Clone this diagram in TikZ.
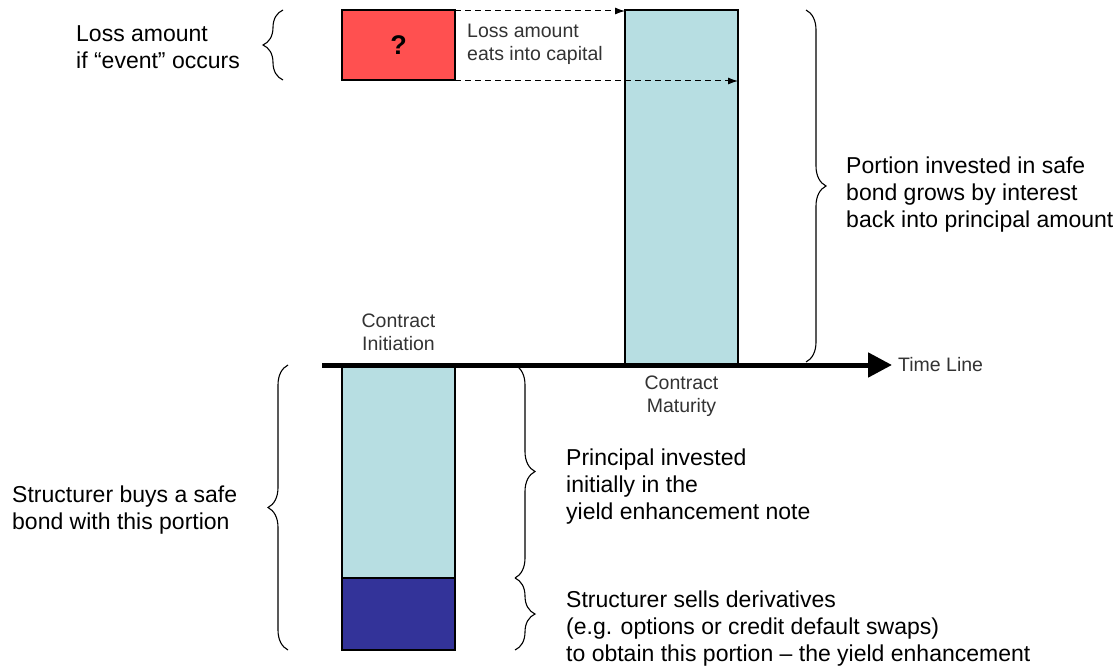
\documentclass[tikz,border=0pt]{standalone}
\usepackage{fontspec}
\setmainfont{Liberation Sans}
\usetikzlibrary{arrows.meta, positioning, calc, decorations.pathreplacing}
\definecolor{lossred}{RGB}{255,80,80}
\definecolor{bondblue}{RGB}{183,222,226}
\definecolor{derivblue}{RGB}{51,51,153}

\begin{document}
\begin{tikzpicture}[x=1pt, y=-1pt, node distance=10pt, >=latex,
        box/.style={draw, line width=1.5pt, minimum width=113pt, inner sep=0pt, outer sep=0pt},
        bigtext/.style={font=\fontsize{23}{27}\selectfont, align=left, inner sep=0pt, anchor=west},
        smalltext/.style={font=\fontsize{19.5}{23}\selectfont, text=black!80, inner sep=0pt},
        bracket/.style={decorate, decoration={brace, amplitude=20pt}, line width=1.1pt},
        dasharrow/.style={dash pattern=on 6pt off 4pt, line width=1pt, -{Latex[length=10pt, width=7pt]}}]
        \useasboundingbox (0,0) rectangle (1118,668);

        \node (loss) [box, fill=lossred, minimum height=70pt] at (398.5,45) {\fontsize{27}{30}\selectfont\textbf{?}};
        \node (bond) [box, fill=bondblue, minimum height=355pt] at (681.5,187.5) {};
        \node (principal) [box, fill=bondblue, minimum height=213pt] at (398.5,471.5) {};
        \node (yield) [box, fill=derivblue, minimum height=72pt, below=0pt of principal] {};

        \draw[dasharrow] ([yshift=-1pt]loss.north east) -- ([yshift=-1pt]bond.north west);
        \coordinate (lossend) at ([yshift=-1pt]loss.south east -| bond.east);
        \draw[dasharrow] ([yshift=-1pt]loss.south east) -- (lossend);

        \coordinate (tlstart) at (322,365);
        \coordinate (tlend) at (892,365);
        \draw[line width=5pt, -{Triangle[length=24pt, width=24pt]}] (tlstart) -- (tlend);
        \node (timeline) [smalltext, right=6pt of tlend] {Time Line};

        \draw[bracket] ([xshift=-59pt]loss.south west) -- ([xshift=-59pt]loss.north west);
        \draw[bracket] ([xshift=68pt]bond.north east) -- ([xshift=68pt, yshift=3pt]bond.south east);
        \draw[bracket] ([xshift=-54pt]yield.south west) -- ([xshift=-54pt]principal.north west);
        \draw[bracket] ([xshift=60pt]principal.north east) -- ([xshift=60pt]principal.south east);
        \draw[bracket] ([xshift=60pt]yield.north east) -- ([xshift=60pt]yield.south east);

        \node (ifevent) [bigtext] at (76,47) {Loss amount\\if “event” occurs};
        \node (eats) [smalltext, align=left, anchor=west] at (467,44) {Loss amount\\eats into capital};
        \node (initiation) [smalltext, align=center, above=14pt of principal] {Contract\\Initiation};
        \node (maturity) [smalltext, align=center, below=11pt of bond] {Contract\\Maturity};
        \node (grows) [bigtext] at (846,195) {Portion invested in safe\\bond grows by interest\\back into principal amount};
        \node (buys) [bigtext] at (12,510) {Structurer buys a safe\\bond with this portion};
        \node (invested) [bigtext] at (566,487) {Principal invested\\initially in the\\yield enhancement note};
        \node (sells) [bigtext] at (566,629) {Structurer sells derivatives\\(e.g. options or credit default swaps)\\to obtain this portion -- the yield enhancement};
    \end{tikzpicture}
\end{document}
